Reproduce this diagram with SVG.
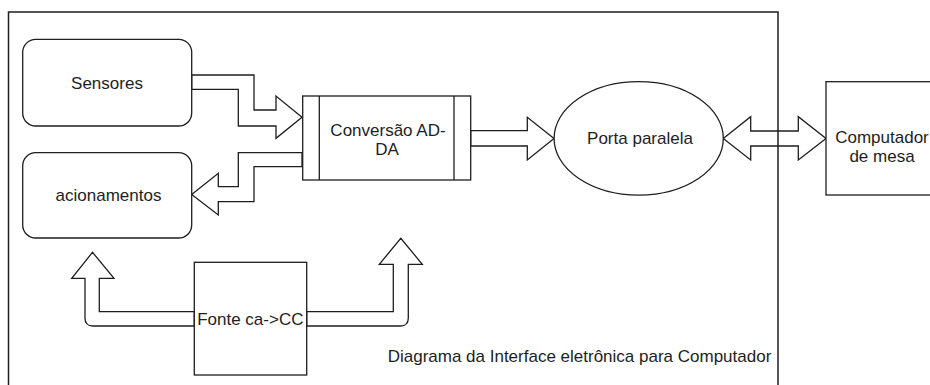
<svg xmlns="http://www.w3.org/2000/svg" width="930" height="385" viewBox="0 0 930 385">
  <style>
    .shape { fill: #ffffff; stroke: #1e1e1e; stroke-width: 1.3; }
    .arrow { fill: #ffffff; stroke: #1e1e1e; stroke-width: 1.3; stroke-linejoin: miter; }
    .label { font-family: "Liberation Sans", Arial, sans-serif; font-size: 17px; fill: #1e1e1e; text-anchor: middle; }
    .frame { fill: none; stroke: #1e1e1e; stroke-width: 1.5; }
  </style>
  <rect x="0" y="0" width="930" height="385" fill="#ffffff"/>

  <!-- block arrows between the units -->
  <g id="connectors">
    <path class="arrow" d="M191.7,75 H254 V110 H276 V96 L302,117.3 L276,138.3 V126 H238.3 V89.3 H191.7 Z"/>
    <path class="arrow" d="M302,152.7 H238.3 V186.7 H218.3 V173.3 L191.7,194.5 L218.3,215 V201.7 H254 V166.7 H302 Z"/>
    <path class="arrow" d="M470.7,130.7 H527.3 V117.3 L554,138.5 L527.3,160 V146 H470.7 Z"/>
    <path class="arrow" d="M723.3,138.5 L750.7,116.7 V131 H798.3 V116.7 L826,138.5 L798.3,160 V146 H750.7 V160 Z"/>
    <path class="arrow" d="M194.3,311.7 H99.3 V278.3 H114 L92.5,252.3 L71.7,278.3 H85 V318 Q85,326 93,326 H194.3 Z"/>
    <path class="arrow" d="M306.7,311.7 H393.3 V264.3 H379.3 L400.8,238.3 L422.3,264.3 H408.3 V318 Q408.3,326 400.3,326 H306.7 Z"/>
  </g>

  <g id="sensores">
    <rect class="shape" x="22.7" y="39.3" width="169" height="86.7" rx="13" ry="13"/>
    <text class="label" x="107" y="88.5">Sensores</text>
  </g>

  <g id="acionamentos">
    <rect class="shape" x="22.7" y="152.7" width="169" height="85.3" rx="13" ry="13"/>
    <text class="label" x="108.5" y="200.5">acionamentos</text>
  </g>

  <g id="conversao">
    <rect class="shape" x="302.7" y="96" width="168" height="84"/>
    <line class="shape" x1="319.3" y1="96" x2="319.3" y2="180"/>
    <line class="shape" x1="454" y1="96" x2="454" y2="180"/>
    <text class="label" x="388" y="136">Conversão AD-</text>
    <text class="label" x="387" y="155">DA</text>
  </g>

  <g id="porta-paralela">
    <ellipse class="shape" cx="638.7" cy="138.4" rx="84.6" ry="56.7"/>
    <text class="label" x="640" y="144">Porta paralela</text>
  </g>

  <g id="computador">
    <rect class="shape" x="826" y="81.7" width="112" height="113.3"/>
    <text class="label" x="882" y="143">Computador</text>
    <text class="label" x="882" y="162">de mesa</text>
  </g>

  <g id="fonte">
    <rect class="shape" x="194.3" y="262.3" width="112.4" height="112.7"/>
    <text class="label" x="250.3" y="325">Fonte ca-&gt;CC</text>
  </g>

  <!-- outer frame of the interface board -->
  <g id="interface">
    <rect class="frame" x="8.5" y="12" width="769.5" height="400"/>
    <text class="label" x="579.5" y="362">Diagrama da Interface eletrônica para Computador</text>
  </g>
</svg>
